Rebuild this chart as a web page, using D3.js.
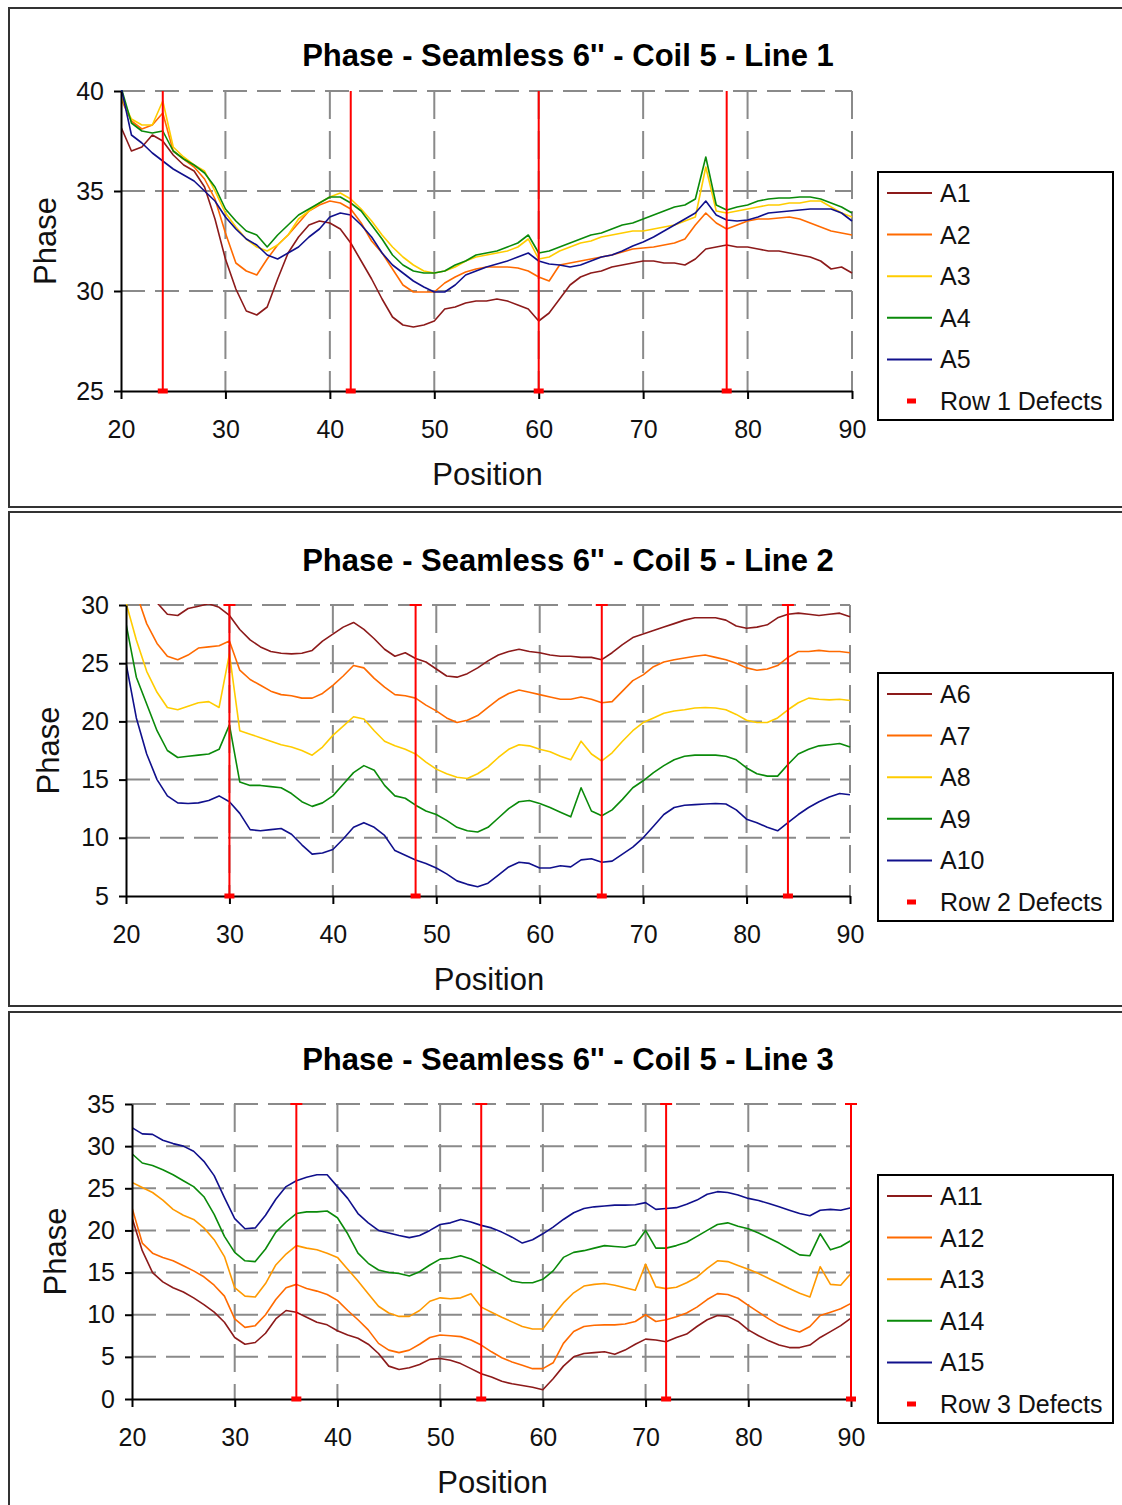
<!DOCTYPE html>
<html>
<head>
<meta charset="utf-8">
<script src="https://cdn.jsdelivr.net/npm/d3@7"></script>
<style>
body { margin: 0; background: #fff; }
svg { display: block; font-family: "Liberation Sans", Arial, sans-serif; }
</style>
</head>
<body>
<div id="chart"></div>
<script>
// sample positions along the coil (x values)
var positions = d3.range(20, 91);
var xTicks = [20, 30, 40, 50, 60, 70, 80, 90];

// ---- Line 1 ----
var a1 = [38.2,37.0,37.2,37.8,37.5,36.8,36.3,36.0,35.2,33.6,31.6,30.1,29.0,28.8,29.2,30.6,31.9,32.7,33.3,33.5,33.4,33.1,32.4,31.5,30.6,29.6,28.7,28.3,28.2,28.3,28.5,29.1,29.2,29.4,29.5,29.5,29.6,29.5,29.3,29.1,28.5,28.9,29.6,30.3,30.7,30.9,31.0,31.2,31.3,31.4,31.5,31.5,31.4,31.4,31.3,31.6,32.1,32.2,32.3,32.2,32.2,32.1,32.0,32.0,31.9,31.8,31.7,31.5,31.1,31.2,30.9];
var a2 = [39.6,38.5,38.1,38.3,38.9,37.0,36.6,36.2,35.6,34.6,32.9,31.4,31.0,30.8,31.6,32.3,32.8,33.4,34.0,34.3,34.5,34.4,34.1,33.4,32.5,31.9,31.1,30.3,29.95,29.95,29.95,30.4,30.7,30.95,31.1,31.2,31.2,31.2,31.15,31.0,30.7,30.5,31.3,31.4,31.5,31.6,31.7,31.8,31.95,32.1,32.15,32.2,32.3,32.4,32.6,33.3,33.9,33.4,33.1,33.3,33.5,33.6,33.6,33.65,33.7,33.6,33.4,33.2,33.0,32.9,32.8];
var a3 = [39.7,38.6,38.3,38.3,39.5,37.2,36.7,36.3,36.0,35.0,33.9,33.2,32.6,32.2,32.0,32.3,32.8,33.6,34.0,34.4,34.7,34.9,34.6,34.1,33.5,32.8,32.2,31.7,31.3,31.0,30.9,31.0,31.2,31.5,31.7,31.8,31.9,32.0,32.2,32.6,31.6,31.7,32.0,32.2,32.4,32.5,32.7,32.8,32.9,33.0,33.0,33.1,33.2,33.3,33.5,33.7,36.2,34.0,33.9,34.0,34.1,34.2,34.3,34.3,34.4,34.4,34.5,34.5,34.2,33.9,33.7];
var a4 = [40.2,38.4,38.0,37.9,38.0,37.0,36.6,36.3,35.9,35.2,34.1,33.5,33.0,32.8,32.2,32.8,33.3,33.8,34.1,34.4,34.7,34.7,34.4,34.0,33.3,32.6,31.8,31.3,31.0,30.9,30.9,31.0,31.3,31.5,31.8,31.9,32.0,32.2,32.4,32.8,31.9,32.0,32.2,32.4,32.6,32.8,32.9,33.1,33.3,33.4,33.6,33.8,34.0,34.2,34.3,34.6,36.7,34.3,34.05,34.2,34.3,34.5,34.6,34.65,34.65,34.7,34.7,34.6,34.4,34.2,33.9];
var a5 = [40.2,37.8,37.4,36.9,36.5,36.1,35.8,35.5,35.0,34.5,33.7,33.1,32.6,32.3,31.8,31.6,31.9,32.2,32.7,33.1,33.7,33.9,33.8,33.3,32.7,31.9,31.3,30.9,30.5,30.2,29.95,29.95,30.3,30.8,31.0,31.2,31.35,31.5,31.7,31.9,31.5,31.35,31.3,31.2,31.3,31.5,31.7,31.8,32.0,32.25,32.45,32.7,33.0,33.3,33.6,33.9,34.5,33.8,33.55,33.5,33.55,33.7,33.9,33.95,34.0,34.05,34.1,34.1,34.1,33.9,33.5];
var defects1 = [24, 42, 60, 78];
var yTicks1 = [25, 30, 35, 40];

// ---- Line 2 ----
var a6 = [33.5,32.0,30.8,30.2,29.2,29.1,29.7,29.9,30.1,29.8,29.1,27.9,27.0,26.4,26.0,25.85,25.8,25.85,26.1,26.9,27.5,28.1,28.5,27.9,27.1,26.2,25.6,25.9,25.4,25.1,24.5,23.9,23.8,24.1,24.6,25.2,25.7,26.0,26.2,26.0,25.9,25.7,25.6,25.6,25.5,25.5,25.3,25.9,26.6,27.2,27.5,27.8,28.1,28.4,28.7,28.9,28.9,28.9,28.7,28.2,28.0,28.1,28.3,28.9,29.2,29.3,29.2,29.1,29.2,29.3,29.0];
var a7 = [33.0,31.0,28.4,26.7,25.6,25.3,25.7,26.3,26.4,26.5,26.9,24.4,23.6,23.1,22.6,22.3,22.2,22.0,22.0,22.4,23.1,23.9,24.8,24.6,23.7,22.95,22.3,22.2,22.0,21.4,20.9,20.3,19.9,20.1,20.5,21.2,21.9,22.4,22.7,22.5,22.3,22.1,21.9,21.9,22.1,21.9,21.6,21.7,22.6,23.5,24.0,24.7,25.1,25.3,25.45,25.6,25.7,25.5,25.3,25.0,24.6,24.4,24.5,24.8,25.5,26.0,26.0,26.1,26.0,26.0,25.9];
var a8 = [30.2,27.0,24.3,22.5,21.2,21.0,21.3,21.6,21.7,21.2,25.8,19.2,18.9,18.6,18.3,18.0,17.8,17.5,17.1,17.8,18.8,19.6,20.4,20.2,19.2,18.3,17.9,17.6,17.2,16.5,15.9,15.5,15.2,15.1,15.5,16.1,16.9,17.6,18.0,17.9,17.6,17.4,17.0,16.7,18.3,17.2,16.6,17.3,18.3,19.2,19.9,20.3,20.7,20.9,21.0,21.15,21.2,21.15,21.0,20.6,20.1,19.9,19.9,20.3,21.0,21.6,22.0,21.9,21.85,21.9,21.8];
var a9 = [28.4,23.8,21.5,19.2,17.5,16.9,17.0,17.1,17.2,17.6,19.7,14.8,14.5,14.5,14.4,14.3,13.8,13.1,12.7,13.0,13.6,14.6,15.6,16.2,15.8,14.5,13.6,13.4,12.8,12.3,12.0,11.5,10.9,10.6,10.5,10.9,11.7,12.5,13.1,13.2,12.95,12.6,12.2,11.8,14.3,12.3,11.9,12.4,13.3,14.3,14.9,15.6,16.2,16.7,17.0,17.1,17.1,17.1,17.0,16.7,16.0,15.5,15.3,15.3,16.3,17.2,17.6,17.9,18.0,18.1,17.8];
var a10 = [25.0,20.3,17.2,15.0,13.6,13.0,12.95,13.0,13.2,13.6,13.1,12.1,10.7,10.6,10.7,10.8,10.3,9.4,8.6,8.7,9.0,9.9,10.9,11.3,10.9,10.2,8.9,8.5,8.1,7.8,7.4,6.9,6.3,6.0,5.8,6.1,6.8,7.5,7.9,7.8,7.4,7.4,7.6,7.5,8.1,8.2,7.9,8.0,8.6,9.2,10.0,11.0,12.0,12.6,12.8,12.85,12.9,12.95,12.9,12.4,11.6,11.3,10.9,10.6,11.3,12.0,12.6,13.1,13.5,13.8,13.7];
var defects2 = [30, 48, 66, 84];
var yTicks2 = [5, 10, 15, 20, 25, 30];

// ---- Line 3 ----
var a11 = [21.5,17.6,15.0,13.9,13.2,12.7,12.0,11.2,10.3,9.1,7.3,6.5,6.7,7.8,9.5,10.5,10.3,9.7,9.1,8.8,8.1,7.6,7.2,6.5,5.4,3.9,3.5,3.7,4.1,4.7,4.8,4.6,4.2,3.6,3.0,2.6,2.1,1.8,1.6,1.4,1.1,2.4,3.9,5.0,5.4,5.5,5.6,5.3,5.8,6.5,7.1,7.0,6.8,7.3,7.7,8.6,9.4,9.9,9.8,9.2,8.2,7.5,6.9,6.4,6.1,6.1,6.4,7.3,8.0,8.7,9.6];
var a12 = [22.7,18.5,17.3,16.8,16.4,15.8,15.2,14.5,13.5,12.2,9.5,8.5,8.7,10.0,11.8,13.2,13.6,13.1,12.8,12.4,11.7,10.5,9.4,8.2,6.6,5.8,5.5,5.8,6.5,7.3,7.6,7.5,7.4,7.0,6.4,5.6,4.9,4.4,4.0,3.6,3.6,4.3,6.6,8.0,8.6,8.75,8.8,8.8,8.9,9.2,10.0,9.2,9.4,9.75,10.2,10.9,11.8,12.5,12.4,11.95,11.1,10.3,9.5,8.8,8.3,7.95,8.6,9.9,10.3,10.7,11.35];
var a13 = [25.7,25.1,24.5,23.6,22.5,21.8,21.3,20.3,18.9,16.9,13.2,12.2,12.1,13.7,15.9,17.2,18.2,17.9,17.7,17.3,16.8,15.4,14.0,12.5,11.0,10.2,9.8,9.8,10.5,11.6,12.0,11.9,12.0,12.5,10.9,10.3,9.7,9.15,8.6,8.3,8.3,9.9,11.4,12.6,13.4,13.6,13.7,13.5,13.2,12.9,16.0,13.3,13.1,13.25,13.8,14.45,15.5,16.4,16.3,15.85,15.4,14.9,14.3,13.7,13.1,12.55,12.1,15.7,13.6,13.5,14.9];
var a14 = [29.1,28.0,27.7,27.2,26.6,25.9,25.2,24.0,21.9,19.3,17.4,16.4,16.3,17.8,19.8,21.0,22.0,22.2,22.2,22.3,21.5,19.6,17.3,16.1,15.3,15.0,14.9,14.6,15.1,15.9,16.6,16.7,17.0,16.6,16.0,15.3,14.7,14.0,13.8,13.8,14.2,15.2,16.8,17.4,17.6,17.9,18.2,18.1,18.0,18.3,20.0,17.9,17.9,18.2,18.6,19.3,20.0,20.7,20.9,20.5,20.2,19.7,19.1,18.5,17.8,17.1,17.0,19.6,17.7,18.1,18.8];
var a15 = [32.2,31.45,31.4,30.7,30.3,30.0,29.4,28.2,26.5,23.9,21.4,20.2,20.3,21.8,23.7,25.2,25.9,26.3,26.6,26.6,25.2,23.8,22.0,20.9,20.0,19.7,19.4,19.15,19.4,20.0,20.7,20.9,21.3,21.0,20.6,20.3,19.8,19.2,18.5,18.9,19.6,20.4,21.3,22.1,22.6,22.8,22.9,23.0,23.0,23.05,23.3,22.5,22.6,22.7,23.1,23.6,24.3,24.6,24.5,24.2,23.8,23.55,23.2,22.8,22.4,22.0,21.75,22.4,22.5,22.4,22.7];
var defects3 = [36, 54, 72, 90];
var yTicks3 = [0, 5, 10, 15, 20, 25, 30, 35];

var charts = [
  { title: "Phase - Seamless 6'' - Coil 5 - Line 1", names: ["A1","A2","A3","A4","A5"], series: [a1,a2,a3,a4,a5],
    colors: ["#8c1a1a","#ff6a00","#ffcc00","#0a8a0a","#10108c"], defects: defects1, defectName: "Row 1 Defects",
    yTicks: yTicks1, cap: false,
    frame: [8, 507], plot: {l: 121, r: 852, t: 91, b: 391}, titleY: 55, phaseX: 45, legendTop: 172 },
  { title: "Phase - Seamless 6'' - Coil 5 - Line 2", names: ["A6","A7","A8","A9","A10"], series: [a6,a7,a8,a9,a10],
    colors: ["#8c1a1a","#ff6a00","#ffcc00","#0a8a0a","#10108c"], defects: defects2, defectName: "Row 2 Defects",
    yTicks: yTicks2, cap: true,
    frame: [512, 1006], plot: {l: 126, r: 850, t: 605, b: 896}, titleY: 560, phaseX: 48, legendTop: 673 },
  { title: "Phase - Seamless 6'' - Coil 5 - Line 3", names: ["A11","A12","A13","A14","A15"], series: [a11,a12,a13,a14,a15],
    colors: ["#8c1a1a","#ff6a00","#ff9900","#0a8a0a","#10108c"], defects: defects3, defectName: "Row 3 Defects",
    yTicks: yTicks3, cap: true,
    frame: [1012, 1520], plot: {l: 132, r: 851, t: 1104, b: 1399}, titleY: 1059, phaseX: 55, legendTop: 1175 }
];

var svg = d3.select("#chart").append("svg")
  .attr("width", 1122)
  .attr("height", 1505);

svg.append("rect").attr("width", 1122).attr("height", 1505).attr("fill", "#fff");

charts.forEach(function(c, ci) {
  var g = svg.append("g");
  var p = c.plot;

  // panel frame
  g.append("rect")
    .attr("x", 9).attr("y", c.frame[0])
    .attr("width", 1130).attr("height", c.frame[1] - c.frame[0])
    .attr("fill", "none").attr("stroke", "#333").attr("stroke-width", 2);

  var x = d3.scaleLinear().domain([20, 90]).range([p.l, p.r]);
  var yExt = d3.extent(c.yTicks);
  var y = d3.scaleLinear().domain(yExt).range([p.b, p.t]);

  // dashed gridlines
  g.selectAll(".hgrid").data(c.yTicks.slice(1)).enter().append("line")
    .attr("x1", p.l).attr("x2", p.r)
    .attr("y1", d => y(d)).attr("y2", d => y(d))
    .attr("stroke", "#8a8a8a").attr("stroke-width", 2).attr("stroke-dasharray", "24,10");
  g.selectAll(".vgrid").data(xTicks.slice(1)).enter().append("line")
    .attr("x1", d => x(d)).attr("x2", d => x(d))
    .attr("y1", p.t).attr("y2", p.b)
    .attr("stroke", "#8a8a8a").attr("stroke-width", 2).attr("stroke-dasharray", "28,12");

  // clip for the series
  g.append("clipPath").attr("id", "clip" + ci)
    .append("rect").attr("x", p.l).attr("y", p.t - 1).attr("width", p.r - p.l + 2).attr("height", p.b - p.t + 1);

  var line = d3.line()
    .x((d, i) => x(positions[i]))
    .y(d => y(d));

  g.append("g").attr("clip-path", "url(#clip" + ci + ")")
    .selectAll("path").data(c.series).enter().append("path")
    .attr("d", d => line(d))
    .attr("fill", "none")
    .attr("stroke", (d, i) => c.colors[i])
    .attr("stroke-width", 1.6)
    .attr("stroke-linejoin", "round");

  // defects: point on the axis with an error bar to the top
  var def = g.append("g");
  def.selectAll("line.bar").data(c.defects).enter().append("line")
    .attr("x1", d => x(d)).attr("x2", d => x(d))
    .attr("y1", y(yExt[0])).attr("y2", y(yExt[1]))
    .attr("stroke", "#ff0000").attr("stroke-width", 2);
  if (c.cap) {
    def.selectAll("line.cap").data(c.defects).enter().append("line")
      .attr("x1", d => x(d) - 6).attr("x2", d => x(d) + 6)
      .attr("y1", y(yExt[1])).attr("y2", y(yExt[1]))
      .attr("stroke", "#ff0000").attr("stroke-width", 2);
  }

  // axes
  var yAxis = g.append("g")
    .attr("transform", "translate(" + p.l + ",0)")
    .call(d3.axisLeft(y).tickValues(c.yTicks).tickSize(7).tickSizeOuter(0).tickPadding(10));
  var xAxis = g.append("g")
    .attr("transform", "translate(0," + p.b + ")")
    .call(d3.axisBottom(x).tickValues(xTicks).tickSize(8).tickSizeOuter(0).tickPadding(21));
  [yAxis, xAxis].forEach(function(a) {
    a.select(".domain").attr("stroke", "#000").attr("stroke-width", 2);
    a.selectAll(".tick line").attr("stroke", "#000").attr("stroke-width", 2);
    a.selectAll(".tick text").attr("font-size", 25).attr("fill", "#111")
      .attr("font-family", "'Liberation Sans', Arial, sans-serif");
  });

  def.raise();
  def.selectAll("rect").data(c.defects).enter().append("rect")
    .attr("x", d => x(d) - 5).attr("y", y(yExt[0]) - 2.5)
    .attr("width", 10).attr("height", 5)
    .attr("fill", "#ff0000");

  // titles
  g.append("text")
    .attr("x", 568).attr("y", c.titleY)
    .attr("text-anchor", "middle").attr("dominant-baseline", "central")
    .attr("font-size", 31).attr("font-weight", "bold")
    .text(c.title);
  g.append("text")
    .attr("x", (p.l + p.r) / 2 + 1).attr("y", p.b + 83)
    .attr("text-anchor", "middle").attr("dominant-baseline", "central")
    .attr("font-size", 31).attr("fill", "#111")
    .text("Position");
  g.append("text")
    .attr("transform", "translate(" + c.phaseX + "," + (p.t + p.b) / 2 + ") rotate(-90)")
    .attr("text-anchor", "middle").attr("dominant-baseline", "central")
    .attr("font-size", 31).attr("fill", "#111")
    .text("Phase");

  // legend
  var lg = g.append("g").attr("transform", "translate(878," + c.legendTop + ")");
  lg.append("rect")
    .attr("width", 235).attr("height", 248)
    .attr("fill", "#fff").attr("stroke", "#000").attr("stroke-width", 2);
  var rows = c.names.map((n, i) => ({ name: n, color: c.colors[i] }));
  rows.push({ name: c.defectName, color: "#ff0000", marker: true });
  var item = lg.selectAll("g.item").data(rows).enter().append("g")
    .attr("transform", (d, i) => "translate(0," + (21 + i * 41.6) + ")");
  item.filter(d => !d.marker).append("line")
    .attr("x1", 9).attr("x2", 54).attr("y1", 0).attr("y2", 0)
    .attr("stroke", d => d.color).attr("stroke-width", 2);
  item.filter(d => d.marker).append("rect")
    .attr("x", 29).attr("y", -2.5).attr("width", 9).attr("height", 5)
    .attr("fill", "#ff0000");
  item.append("text")
    .attr("x", 62).attr("y", 0)
    .attr("dominant-baseline", "central")
    .attr("font-size", 25).attr("fill", "#111")
    .text(d => d.name);
});
</script>
</body>
</html>
